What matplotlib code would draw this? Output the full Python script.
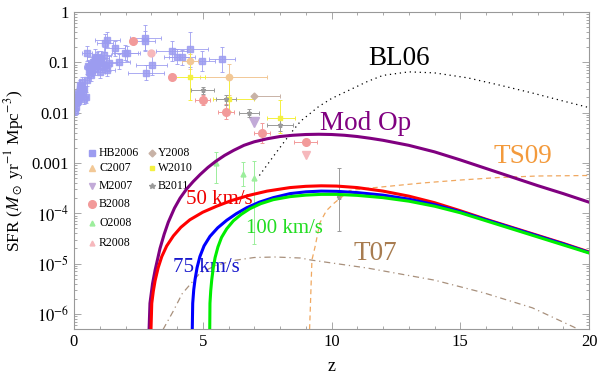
import matplotlib
matplotlib.use("Agg")
import matplotlib.pyplot as plt
import numpy as np
from matplotlib.ticker import FixedLocator, LogLocator, NullFormatter, MultipleLocator

plt.rcParams['font.family'] = ['Liberation Serif', 'DejaVu Serif']
plt.rcParams['mathtext.fontset'] = 'stix'

# ---------------- model curves: z and log10(SFR) ----------------
modop_z = [2.87, 2.95, 3.05, 3.15, 3.34, 3.5, 3.66, 3.9, 4.12, 4.37, 4.63, 4.9, 5.2, 5.5, 5.85, 6.2, 6.6,
           7.0, 7.5, 8.0, 8.5, 9.0, 9.5, 10.0, 10.5, 11.0, 11.5, 12.0, 13.0, 14.0, 15.0, 16.0, 17.0, 18.0,
           19.0, 20.0]
modop_logsfr = [-7.0, -5.79, -5.40, -5.13, -4.70, -4.42, -4.18, -3.90, -3.70, -3.52, -3.37, -3.23, -3.09,
                -2.97, -2.85, -2.75, -2.65, -2.58, -2.52, -2.475, -2.45, -2.435, -2.43, -2.435, -2.45,
                -2.475, -2.51, -2.55, -2.65, -2.78, -2.94, -3.11, -3.28, -3.45, -3.61, -3.78]

v50_z = [2.95, 3.02, 3.08, 3.15, 3.27, 3.41, 3.6, 3.86, 4.15, 4.5, 5.0, 5.54, 6.1, 6.83, 7.5, 8.39, 9.0,
         9.6, 10.2, 11.0, 12.0, 13.0, 14.0, 15.0, 16.0, 17.0, 18.0, 19.0, 20.0]
v50_logsfr = [-7.0, -5.79, -5.55, -5.34, -5.08, -4.86, -4.65, -4.45, -4.28, -4.13, -3.98, -3.86, -3.75,
              -3.64, -3.56, -3.49, -3.465, -3.455, -3.46, -3.49, -3.56, -3.66, -3.79, -3.95, -4.12, -4.28,
              -4.44, -4.60, -4.77]

v75_z = [4.57, 4.61, 4.65, 4.70, 4.78, 4.89, 5.05, 5.28, 5.58, 5.93, 6.3, 6.71, 7.2, 7.74, 8.39, 9.0, 9.6,
         10.2, 11.0, 12.0, 13.0, 14.0, 15.0, 16.0, 17.0, 18.0, 19.0, 20.0]
v75_logsfr = [-7.0, -5.79, -5.52, -5.32, -5.08, -4.86, -4.65, -4.46, -4.29, -4.14, -4.01, -3.89, -3.78,
              -3.69, -3.61, -3.575, -3.56, -3.565, -3.59, -3.64, -3.72, -3.83, -3.97, -4.13, -4.29, -4.45,
              -4.61, -4.78]

v100_z = [5.26, 5.28, 5.31, 5.35, 5.41, 5.48, 5.59, 5.73, 5.93, 6.19, 6.5, 6.83, 7.25, 7.74, 8.39, 9.0,
          9.6, 10.2, 11.0, 12.0, 13.0, 14.0, 15.0, 16.0, 17.0, 18.0, 19.0, 20.0]
v100_logsfr = [-7.0, -5.79, -5.54, -5.32, -5.08, -4.88, -4.67, -4.48, -4.31, -4.15, -4.02, -3.91, -3.81,
               -3.73, -3.67, -3.64, -3.625, -3.625, -3.645, -3.69, -3.76, -3.86, -3.99, -4.15, -4.31,
               -4.47, -4.63, -4.79]

bl06_z = [7.2, 7.8, 8.4, 8.8, 9.5, 10.0, 10.7, 11.4, 12.0, 13.0, 14.0, 15.3, 16.5, 17.8, 19.0, 20.0]
bl06_logsfr = [-3.25, -2.83, -2.42, -2.17, -1.88, -1.72, -1.55, -1.38, -1.26, -1.19, -1.21, -1.31, -1.45,
               -1.61, -1.77, -1.90]

ts09_z = [9.1, 9.17, 9.24, 9.36, 9.55, 9.8, 10.1, 10.7, 11.5, 12.3, 13.5, 15.0, 16.5, 18.0, 20.0]
ts09_logsfr = [-7.0, -6.0, -4.93, -4.67, -4.19, -3.95, -3.80, -3.55, -3.50, -3.46, -3.40, -3.34, -3.29,
               -3.26, -3.25]

t07_z = [3.3, 3.47, 3.85, 4.2, 4.89, 5.5, 6.19, 7.0, 7.8, 8.8, 9.2, 11.4, 14.0, 15.9, 17.8, 19.4, 20.0]
t07_logsfr = [-6.6, -6.30, -5.95, -5.60, -5.19, -5.04, -4.94, -4.88, -4.87, -4.89, -4.93, -5.09, -5.33,
              -5.58, -5.88, -6.26, -6.42]

# ---------------- observational data ----------------
hb_z = [0.05, 0.08, 0.1, 0.12, 0.15, 0.17, 0.2, 0.22, 0.25, 0.28, 0.3, 0.33, 0.35, 0.38, 0.4, 0.45, 0.5, 0.5,
        0.55, 0.6, 0.6, 0.65, 0.7, 0.7, 0.75, 0.8, 0.8, 0.85, 0.9, 0.9, 0.95, 1.0, 1.0, 1.05, 1.1, 1.15, 1.2,
        1.25, 1.3, 1.3, 1.37, 1.59, 1.76, 1.98, 2.05, 2.76, 2.76, 2.8, 3.02, 3.79, 4.0, 4.18, 4.5, 4.96, 5.74]
hb_sfr = [0.011, 0.013, 0.016, 0.02, 0.017, 0.025, 0.022, 0.03, 0.035, 0.028, 0.04, 0.033, 0.025, 0.03, 0.019,
          0.02, 0.045, 0.15, 0.085, 0.065, 0.08, 0.055, 0.07, 0.09, 0.1, 0.075, 0.13, 0.11, 0.09, 0.12, 0.13,
          0.1, 0.065, 0.12, 0.085, 0.14, 0.24, 0.09, 0.07, 0.28, 0.096, 0.19, 0.103, 0.155, 0.15, 0.31, 0.27,
          0.062, 0.088, 0.17, 0.13, 0.125, 0.18, 0.105, 0.115]
hb_zerr = [0.05, 0.05, 0.05, 0.1, 0.05, 0.1, 0.05, 0.1, 0.1, 0.05, 0.1, 0.1, 0.05, 0.1, 0.1, 0.1, 0.1, 0.2,
           0.1, 0.1, 0.2, 0.1, 0.1, 0.2, 0.2, 0.1, 0.3, 0.2, 0.1, 0.2, 0.2, 0.2, 0.2, 0.3, 0.2, 0.3, 0.3, 0.2,
           0.3, 0.5, 0.3, 0.4, 0.4, 0.5, 0.5, 0.6, 0.4, 0.7, 0.6, 0.6, 0.5, 0.5, 0.7, 0.5, 0.5]
hb_dex = [0.08, 0.08, 0.08, 0.1, 0.08, 0.1, 0.08, 0.1, 0.1, 0.08, 0.1, 0.1, 0.08, 0.1, 0.1, 0.1, 0.12, 0.15,
          0.12, 0.12, 0.12, 0.12, 0.12, 0.12, 0.12, 0.12, 0.15, 0.12, 0.12, 0.12, 0.12, 0.12, 0.12, 0.15, 0.12,
          0.15, 0.18, 0.12, 0.12, 0.15, 0.15, 0.15, 0.15, 0.15, 0.15, 0.25, 0.2, 0.15, 0.2, 0.2, 0.15, 0.15,
          0.35, 0.2, 0.25]

b08_z = [2.3, 3.8, 5.0, 5.9, 7.3, 9.0]
b08_sfr = [0.27, 0.052, 0.018, 0.0105, 0.004, 0.0026]
b08_zerr = [0.0, 0.0, 0.3, 0.3, 0.3, 0.45]
b08_dex = [0.05, 0.05, 0.1, 0.15, 0.2, 0.0]

r08_z = [3.0, 9.0]
r08_sfr = [0.15, 0.00145]

c07_z = [4.5, 6.0]
c07_sfr = [0.105, 0.052]
c07_zlo = [0.3, 1.1]
c07_zhi = [0.3, 1.5]
c07_slo = [0.03, 0.03]
c07_shi = [0.04, 0.04]

m07_z = [7.0]
m07_sfr = [0.0066]

y08_z = [7.0]
y08_sfr = [0.021]
y08_zlo = [0.0]
y08_zhi = [1.0]

w10_z = [4.5, 6.0, 8.0]
w10_sfr = [0.052, 0.0185, 0.0079]
w10_zlo = [0.6, 0.6, 0.5]
w10_zhi = [0.6, 1.0, 0.6]
w10_slo = [0.034, 0.0075, 0.004]
w10_shi = [0.13, 0.034, 0.01]

b11_z = [5.0, 5.9, 6.8, 8.0, 10.3]
b11_sfr = [0.028, 0.0185, 0.01, 0.0058, 2.1e-4]
b11_zerr = [0.45, 0.4, 0.4, 0.5, 0.0]
b11_slo = [0.005, 0.004, 0.002, 0.0015, 1.65e-4]
b11_shi = [0.005, 0.004, 0.002, 0.0015, 6.0e-4]

o08_z = [5.5, 6.55, 7.0]
o08_sfr = [1.0e-3, 6.0e-4, 5.0e-4]
o08_slo = [6.0e-4, 2.6e-4, 4.75e-4]
o08_shi = [6.6e-4, 4.5e-4, 5.7e-4]

legend_col1 = ["HB2006", "C2007", "M2007", "B2008", "O2008", "R2008"]
legend_col2 = ["Y2008", "W2010", "B2011"]

# colours
c_hb = '#9c9cf0'
c_b08 = '#f29a9a'
c_r08 = '#f6b8bc'
c_c07 = '#f2c896'
c_m07 = '#c2aad8'
c_y08 = '#c8b2a6'
c_w10 = '#f4f040'
c_b11 = '#9a9a9a'
c_o08 = '#9cee9c'

fig = plt.figure(figsize=(6, 3.75), dpi=100)
ax = fig.add_axes([74 / 600, 1 - 329 / 375, 515 / 600, 317 / 375])
ax.set_xlim(0, 20)
ax.set_yscale('log')
ax.set_ylim(5e-7, 1)

ekw = dict(elinewidth=0.7, capsize=1.3, capthick=0.7, linestyle='none', zorder=2)

# HB2006
hb_sfr_a = np.array(hb_sfr)
hb_d = np.array(hb_dex)
ax.errorbar(hb_z, hb_sfr, xerr=hb_zerr,
            yerr=[hb_sfr_a * (1 - 10 ** -hb_d), hb_sfr_a * (10 ** hb_d - 1)],
            marker='s', ms=3.8, color=c_hb, mec=c_hb, ecolor=c_hb, alpha=0.85, **ekw)
# B2008
b08_a = np.array(b08_sfr)
b08_d = np.array(b08_dex)
ax.errorbar(b08_z, b08_sfr, xerr=b08_zerr,
            yerr=[b08_a * (1 - 10 ** -b08_d), b08_a * (10 ** b08_d - 1)],
            marker='o', ms=5.5, color=c_b08, mec=c_b08, ecolor=c_b08, **ekw)
# R2008
ax.plot(r08_z[:1], r08_sfr[:1], 'o', ms=5, color=c_r08, zorder=2)
ax.plot(r08_z[1:], r08_sfr[1:], 'v', ms=6, color=c_r08, zorder=2)
# C2007
ax.errorbar(c07_z, c07_sfr, xerr=[c07_zlo, c07_zhi], yerr=[c07_slo, c07_shi],
            marker='o', ms=4.5, color=c_c07, mec=c_c07, ecolor=c_c07, **ekw)
# W2010
ax.errorbar(w10_z, w10_sfr, xerr=[w10_zlo, w10_zhi], yerr=[w10_slo, w10_shi],
            marker='s', ms=2.5, color=c_w10, mec=c_w10, ecolor=c_w10, **ekw)
# M2007
ax.plot(m07_z, m07_sfr, 'v', ms=6.5, color=c_m07, zorder=2)
# Y2008
ax.errorbar(y08_z, y08_sfr, xerr=[y08_zlo, y08_zhi],
            marker='D', ms=3.5, color=c_y08, mec=c_y08, ecolor=c_y08, **ekw)
# B2011
ax.errorbar(b11_z, b11_sfr, xerr=b11_zerr, yerr=[b11_slo, b11_shi],
            marker='*', ms=3.5, color=c_b11, mec=c_b11, ecolor=c_b11, **ekw)
# O2008
ax.errorbar(o08_z, o08_sfr, yerr=[o08_slo, o08_shi],
            marker='^', ms=3.5, color=c_o08, mec=c_o08, ecolor=c_o08, **ekw)


def sfr(logs):
    return 10.0 ** np.asarray(logs)


# model curves
ax.plot(bl06_z, sfr(bl06_logsfr), color='black', lw=0.9, ls=(0, (1, 3)), zorder=3)
ax.plot(ts09_z, sfr(ts09_logsfr), color='#f0a860', lw=0.9, ls=(0, (4, 3)), zorder=3)
ax.plot(t07_z, sfr(t07_logsfr), color='#a8907c', lw=0.9, ls=(0, (5, 3, 1, 3)), zorder=3)
ax.plot(modop_z, sfr(modop_logsfr), color='#800080', lw=2.2, zorder=4)
ax.plot(v50_z, sfr(v50_logsfr), color='#ff0000', lw=2.2, zorder=4)
ax.plot(v75_z, sfr(v75_logsfr), color='#0000ff', lw=2.2, zorder=4)
ax.plot(v100_z, sfr(v100_logsfr), color='#00ee00', lw=2.2, zorder=4)

# curve labels
ax.text(12.62, 0.0885, "BL06", fontsize=19.5, color='black', ha='center', va='baseline')
ax.text(11.32, 4.5e-3, "Mod Op", fontsize=19.5, color='#800080', ha='center', va='baseline')
ax.text(17.44, 1.0e-3, "TS09", fontsize=19.5, color='#f39a3c', ha='center', va='baseline')
ax.text(11.69, 1.18e-5, "T07", fontsize=19.5, color='#a87c50', ha='center', va='baseline')
ax.text(5.63, 1.53e-4, "50 km/s", fontsize=15, color='#ee0000', ha='center', va='baseline')
ax.text(8.19, 4.07e-5, "100 km/s", fontsize=15, color='#22dd22', ha='center', va='baseline')
ax.text(5.15, 6.8e-6, "75 km/s", fontsize=15, color='#1818cc', ha='center', va='baseline')


# legend (drawn manually in axes coordinates)
def axpos(px, py):
    return (px - 74) / 515, (329 - py) / 317


col1_style = [('s', c_hb, 3.8), ('^', c_c07, 4.0), ('v', c_m07, 4.5), ('o', c_b08, 5.5),
              ('^', c_o08, 3.5), ('^', c_r08, 3.5)]
col1_y = [153, 168.5, 186.5, 204, 223, 243]
for name, (mk, col, ms), py in zip(legend_col1, col1_style, col1_y):
    x0, y0 = axpos(92, py)
    ax.plot([x0], [y0], mk, ms=ms, color=col, transform=ax.transAxes, clip_on=False, zorder=5)
    x1, _ = axpos(99, py)
    ax.text(x1, y0, name, fontsize=8.5, transform=ax.transAxes, va='center', ha='left')
col2_style = [('D', c_y08, 3.5), ('s', c_w10, 2.5), ('*', c_b11, 4.0)]
col2_y = [153, 168.5, 186.5]
for name, (mk, col, ms), py in zip(legend_col2, col2_style, col2_y):
    x0, y0 = axpos(152, py)
    ax.plot([x0], [y0], mk, ms=ms, color=col, transform=ax.transAxes, clip_on=False, zorder=5)
    x1, _ = axpos(158, py)
    ax.text(x1, y0, name, fontsize=8.5, transform=ax.transAxes, va='center', ha='left')

# axes styling
ax.xaxis.set_major_locator(FixedLocator([0, 5, 10, 15, 20]))
ax.xaxis.set_minor_locator(MultipleLocator(1))
ax.yaxis.set_major_locator(FixedLocator([1e-6, 1e-5, 1e-4, 1e-3, 1e-2, 1e-1, 1]))
ax.set_yticklabels([r"$10^{-6}$", r"$10^{-5}$", r"$10^{-4}$", "0.001", "0.01", "0.1", "1"])
ax.yaxis.set_minor_locator(LogLocator(base=10, subs=np.arange(2, 10), numticks=20))
ax.yaxis.set_minor_formatter(NullFormatter())
ax.tick_params(which='both', direction='in', top=True, right=True, color='#999999',
               labelsize=12, width=0.6)
ax.tick_params(which='major', length=5)
ax.tick_params(which='minor', length=2.5)
for s in ax.spines.values():
    s.set_color('#999999')
    s.set_linewidth(0.8)

ax.set_xlabel("z", fontsize=13, labelpad=6)
ax.set_ylabel(r"SFR ($M_\odot$ yr$^{-1}$ Mpc$^{-3}$)", fontsize=12.5, labelpad=4)

fig.savefig("out.png", dpi=100)
